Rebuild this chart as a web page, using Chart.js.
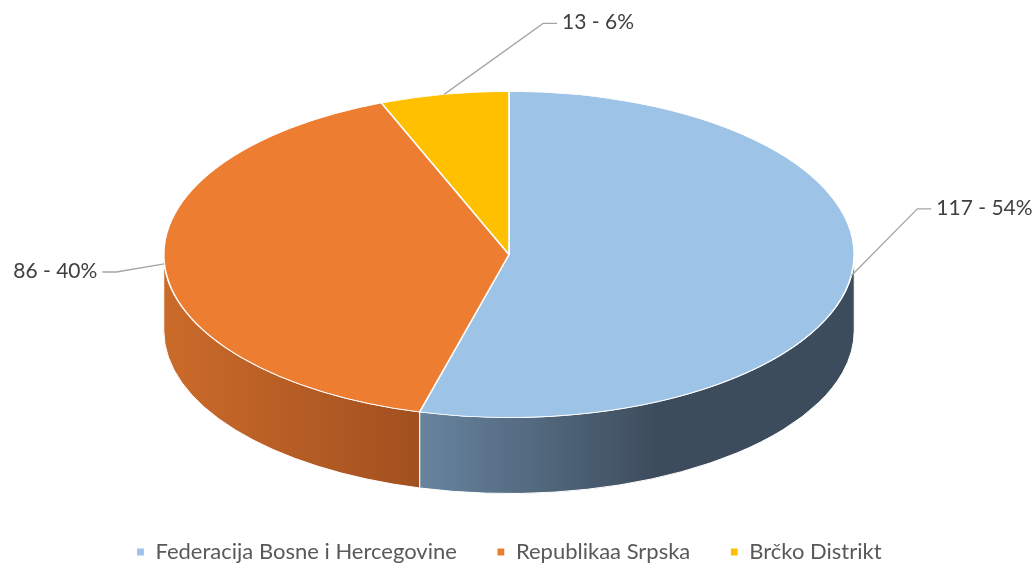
<!DOCTYPE html>
<html lang="bs">
<head>
  <meta charset="UTF-8" />
  <title>Federacija / Republika Srpska / Brčko</title>
  <style>
    body { margin:0; background:#fff; }
    #chart-container { width:1032px; height:565px; position:relative; }
  </style>
</head>
<body>
  <div id="chart-container"><canvas id="chart"></canvas></div>

  <script src="https://cdn.jsdelivr.net/npm/chart.js"></script>
  <script>
  // data
  const labels = ['Federacija Bosne i Hercegovine', 'Republikaa Srpska', 'Brčko Distrikt'];
  const values = [117, 86, 13];

  // styles
  const topColors  = ['#9DC3E6', '#ED7D31', '#FFC000'];
  const sideLight  = ['#67849F', '#CB6B2A', '#C79600'];
  const sideDark   = ['#3D4C5C', '#A25020', '#8F6B00'];
  const SQUASH_X = 1.404, SQUASH_Y = 0.663;   // flatten the pie into an ellipse
  const DEPTH = 76;                           // height of the side wall
  // leader elbow offset from the slice edge, and which side the text goes
  const labelOffsets = [[66, -67, 1], [-48, 8, -1], [99, -71, 1]];
  const FONT = 'Lato, "Open Sans", sans-serif';

  const total = values.reduce((a, b) => a + b, 0);

  const pie3d = {
    id: 'pie3d',
    beforeDatasetsDraw(chart) {
      const ctx = chart.ctx;
      const arcs = chart.getDatasetMeta(0).data;
      const { x: cx, y: cy, outerRadius: r } = arcs[0];
      const rx = r * SQUASH_X, ry = r * SQUASH_Y;

      // side walls (front half only)
      ctx.save();
      arcs.forEach((arc, i) => {
        [0, 2 * Math.PI].forEach(base => {
          const a0 = Math.max(arc.startAngle, base);
          const a1 = Math.min(arc.endAngle, base + Math.PI);
          if (a1 <= a0) return;
          const xl = cx + rx * Math.cos(a1), xr = cx + rx * Math.cos(a0);
          const g = ctx.createLinearGradient(xl, 0, xr, 0);
          g.addColorStop(0, sideLight[i]);
          g.addColorStop(i === 0 ? 0.55 : 1, sideDark[i]);
          g.addColorStop(1, sideDark[i]);
          ctx.beginPath();
          ctx.ellipse(cx, cy, rx, ry, 0, a0, a1, false);
          ctx.ellipse(cx, cy + DEPTH, rx, ry, 0, a1, a0, true);
          ctx.closePath();
          ctx.fillStyle = g;
          ctx.fill();
          ctx.strokeStyle = '#fff';
          ctx.lineWidth = 1;
          ctx.stroke();
        });
      });
      ctx.restore();

      // squash the top face drawn by Chart.js
      ctx.save();
      ctx.translate(cx, cy);
      ctx.scale(SQUASH_X, SQUASH_Y);
      ctx.translate(-cx, -cy);
    },
    afterDatasetsDraw(chart) {
      const ctx = chart.ctx;
      ctx.restore();
      const arcs = chart.getDatasetMeta(0).data;
      const { x: cx, y: cy, outerRadius: r } = arcs[0];
      const rx = r * SQUASH_X, ry = r * SQUASH_Y;

      ctx.save();
      ctx.font = '21px ' + FONT;
      ctx.fillStyle = '#404040';
      ctx.textBaseline = 'middle';
      arcs.forEach((arc, i) => {
        const mid = (arc.startAngle + arc.endAngle) / 2;
        const ax = cx + rx * Math.cos(mid), ay = cy + ry * Math.sin(mid);
        const [dx, dy, side] = labelOffsets[i];
        const ex = ax + dx, ey = ay + dy;
        const hx = ex + side * 14;
        ctx.beginPath();
        ctx.moveTo(ax, ay);
        ctx.lineTo(ex, ey);
        ctx.lineTo(hx, ey);
        ctx.strokeStyle = '#A6A6A6';
        ctx.lineWidth = 1.3;
        ctx.stroke();
        const pct = Math.round(values[i] / total * 100);
        ctx.textAlign = side > 0 ? 'left' : 'right';
        ctx.fillText(values[i] + ' - ' + pct + '%', hx + side * 5, ey - 1);
      });
      ctx.restore();
    }
  };

  new Chart(document.getElementById('chart').getContext('2d'), {
    type: 'pie',
    data: {
      labels: labels,
      datasets: [{
        data: values,
        backgroundColor: topColors,
        borderColor: '#fff',
        borderWidth: 1.2
      }]
    },
    options: {
      responsive: true,
      maintainAspectRatio: false,
      animation: false,
      layout: { padding: { top: 8, bottom: -8, left: 0, right: 14 } },
      plugins: {
        tooltip: { enabled: false },
        legend: {
          position: 'bottom',
          labels: {
            boxWidth: 8, boxHeight: 8, padding: 40,
            color: '#595959',
            font: { family: FONT, size: 22 }
          }
        }
      }
    },
    plugins: [pie3d]
  });
  </script>
</body>
</html>
